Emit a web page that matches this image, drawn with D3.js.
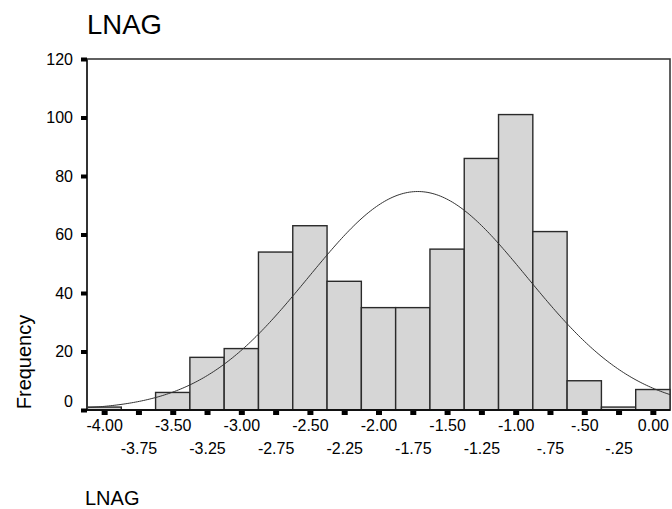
<!DOCTYPE html>
<html>
<head>
<meta charset="utf-8">
<script src="https://cdn.jsdelivr.net/npm/d3@7"></script>
<style>
  body { margin: 0; background: #fff; }
  svg { display: block; font-family: "Liberation Sans", Arial, sans-serif; }
</style>
</head>
<body>
<svg id="chart" width="672" height="509"></svg>
<script>
// Histogram of LNAG: bin midpoints (width 0.25) and frequencies
const binCenters = [-4.00, -3.75, -3.50, -3.25, -3.00, -2.75, -2.50, -2.25, -2.00,
                    -1.75, -1.50, -1.25, -1.00, -0.75, -0.50, -0.25, 0.00];
const frequencies = [1, 0, 6, 18, 21, 54, 63, 44, 35, 35, 55, 86, 101, 61, 10, 1, 7];
const binWidth = 0.25;
const tickLabels = ["-4.00", "-3.75", "-3.50", "-3.25", "-3.00", "-2.75", "-2.50", "-2.25", "-2.00",
                    "-1.75", "-1.50", "-1.25", "-1.00", "-.75", "-.50", "-.25", "0.00"];
const yTicks = [0, 20, 40, 60, 80, 100, 120];

const svg = d3.select("#chart");
const plotLeft = 87, plotRight = 670, plotTop = 59, plotBottom = 410;

const x = d3.scaleLinear()
  .domain([binCenters[0] - binWidth / 2, binCenters[binCenters.length - 1] + binWidth / 2])
  .range([plotLeft, plotRight]);
const y = d3.scaleLinear().domain([0, 120]).range([plotBottom, plotTop]);

// Title
svg.append("text").attr("x", 87).attr("y", 34)
  .attr("font-size", 27.5).attr("fill", "#000").text("LNAG");

// Plot frame
svg.append("rect").attr("x", plotLeft).attr("y", plotTop)
  .attr("width", plotRight - plotLeft).attr("height", plotBottom - plotTop)
  .attr("fill", "#fff").attr("stroke", "#3a3a3a").attr("stroke-width", 1.6);

// Bars
const bins = binCenters.map((c, i) => ({ c, n: frequencies[i] }));
svg.append("g").selectAll("rect").data(bins.filter(d => d.n > 0)).join("rect")
  .attr("x", d => x(d.c - binWidth / 2))
  .attr("width", d => x(d.c + binWidth / 2) - x(d.c - binWidth / 2))
  .attr("y", d => y(d.n))
  .attr("height", d => y(0) - y(d.n))
  .attr("fill", "#d6d6d6").attr("stroke", "#2a2a2a").attr("stroke-width", 1.4);

// Normal curve fitted to the binned data
const N = d3.sum(frequencies);
const mean = d3.sum(bins, d => d.c * d.n) / N;
const sd = Math.sqrt(d3.sum(bins, d => d.n * (d.c - mean) ** 2) / (N - 1));
const density = v => N * binWidth * Math.exp(-0.5 * ((v - mean) / sd) ** 2) / (sd * Math.sqrt(2 * Math.PI));
const [x0, x1] = x.domain();
const curvePts = d3.range(0, 301).map(i => x0 + (x1 - x0) * i / 300);
svg.append("path").datum(curvePts)
  .attr("d", d3.line().x(v => x(v)).y(v => y(density(v))))
  .attr("fill", "none").attr("stroke", "#333").attr("stroke-width", 1);

// Axis lines
svg.append("line").attr("x1", plotLeft).attr("x2", plotLeft).attr("y1", plotTop).attr("y2", plotBottom + 1)
  .attr("stroke", "#333").attr("stroke-width", 2);
svg.append("line").attr("x1", plotLeft - 1).attr("x2", plotRight).attr("y1", plotBottom).attr("y2", plotBottom)
  .attr("stroke", "#111").attr("stroke-width", 2);

// Y axis
const yAxis = d3.axisLeft(y).tickValues(yTicks).tickSize(0).tickPadding(14);
const yg = svg.append("g").attr("transform", `translate(${plotLeft},0)`).call(yAxis);
yg.select(".domain").remove();
yg.selectAll("text").attr("font-size", 16).attr("fill", "#000")
  .attr("font-family", "Liberation Sans, Arial, sans-serif")
  .attr("dy", d => d === 0 ? "-0.2em" : "0.32em");
yg.selectAll(".tick").append("rect")
  .attr("x", -6).attr("y", -2).attr("width", 6).attr("height", 4).attr("fill", "#000");

// X axis: labels alternate between two rows
const xAxis = d3.axisBottom(x).tickValues(binCenters).tickSize(0)
  .tickFormat((d, i) => tickLabels[i]);
const xg = svg.append("g").attr("transform", `translate(0,${plotBottom})`).call(xAxis);
xg.select(".domain").remove();
xg.selectAll("text").attr("font-size", 16).attr("fill", "#000")
  .attr("font-family", "Liberation Sans, Arial, sans-serif")
  .attr("y", (d, i) => i % 2 === 0 ? 21 : 44).attr("dy", 0);
xg.selectAll(".tick").append("rect")
  .attr("x", -3).attr("y", 1).attr("width", 6).attr("height", 4).attr("fill", "#000");

// Axis titles
svg.append("text").attr("transform", "translate(31,362) rotate(-90)")
  .attr("text-anchor", "middle").attr("font-size", 20).attr("fill", "#000").text("Frequency");
svg.append("text").attr("x", 85).attr("y", 505)
  .attr("font-size", 20).attr("fill", "#000").text("LNAG");
</script>
</body>
</html>
